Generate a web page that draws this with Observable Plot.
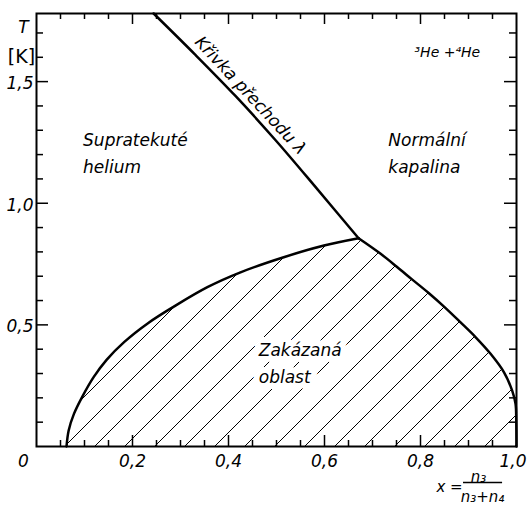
<!DOCTYPE html>
<html><head><meta charset="utf-8">
<script src="https://cdn.jsdelivr.net/npm/d3@7"></script>
<script src="https://cdn.jsdelivr.net/npm/@observablehq/plot@0.6"></script>
<style>body{margin:0;background:#fff}</style>
</head><body><div id="chart"></div>
<script>
// λ transition line (x = n3/(n3+n4), T in K)
const lambdaX = [0.244, 0.33, 0.415, 0.50, 0.585, 0.671];
const lambdaT = [1.78, 1.612, 1.44, 1.255, 1.058, 0.856];
// phase-separation boundary, left (He4-rich) branch
const leftX = [0.0625, 0.067, 0.078, 0.095, 0.119, 0.146, 0.183, 0.233, 0.286, 0.356, 0.425, 0.515, 0.599, 0.671];
const leftT = [0, 0.066, 0.134, 0.203, 0.285, 0.356, 0.430, 0.508, 0.575, 0.655, 0.716, 0.778, 0.826, 0.856];
// right (He3-rich) branch
const rightX = [0.671, 0.717, 0.75, 0.783, 0.817, 0.849, 0.883, 0.915, 0.946, 0.974, 0.991, 0.998, 0.9995, 1.0];
const rightT = [0.856, 0.792, 0.740, 0.686, 0.631, 0.575, 0.511, 0.449, 0.381, 0.305, 0.230, 0.175, 0.107, 0];
// ticks
const xLabelTicks = [0.2, 0.4, 0.6, 0.8];
const xEndTick = [1.0];
const xZeroTick = [0];
const xMajorTicks = [0.2, 0.4, 0.6, 0.8];
const xMinorTicks = [0.05, 0.1, 0.15, 0.25, 0.3, 0.35, 0.45, 0.5, 0.55, 0.65, 0.7, 0.75, 0.85, 0.9, 0.95];
const yLabelTicks = [0.5, 1.0, 1.5];
const yMinorTicks = [0.1, 0.2, 0.3, 0.4, 0.6, 0.7, 0.8, 0.9, 1.1, 1.2, 1.3, 1.4, 1.6, 1.7];
// region labels
const regionLabels = [
  {x: 0.097, T: 1.237, text: "Supratekuté"},
  {x: 0.097, T: 1.126, text: "helium"},
  {x: 0.733, T: 1.237, text: "Normální"},
  {x: 0.733, T: 1.126, text: "kapalina"},
  {x: 0.463, T: 0.374, text: "Zakázaná"},
  {x: 0.463, T: 0.259, text: "oblast"}
];
const curveLabel = [{x: 0.446, T: 1.443, text: "Křivka přechodu λ"}];
const mixLabel = [{x: 0.7875, T: 1.60, text: "³He +⁴He"}];
const fractionBar = [{T: -0.148, x1: 0.8896, x2: 0.971}];

const fmt = d => d === 0 ? "0" : d.toFixed(1).replace(".", ",");
const zip = (xs, ts) => xs.map((x, i) => ({x, T: ts[i]}));
const lambda = zip(lambdaX, lambdaT);
const left = zip(leftX, leftT);
const right = zip(rightX, rightT);

const W = 527, H = 506, mL = 36, mR = 11, mT = 13, mB = 60;
const xDom = [0, 1], yDom = [0, 1.78];
const fw = W - mL - mR, fh = H - mT - mB;
const px2x = p => p * (xDom[1] - xDom[0]) / fw;   // pixel length -> x units
const px2y = p => p * (yDom[1] - yDom[0]) / fh;   // pixel length -> T units
const tickStyle = {stroke: "black", strokeWidth: 1.5};

const plot = Plot.plot({
  width: W, height: H,
  marginLeft: mL, marginRight: mR, marginTop: mT, marginBottom: mB,
  x: {domain: xDom, axis: null},
  y: {domain: yDom, axis: null},
  style: {fontFamily: "'DejaVu Sans', sans-serif", fontStyle: "italic", fontSize: "17px", color: "black", background: "white"},
  marks: [
    Plot.areaY(left, {x: "x", y: "T", fill: "url(#hatch)", curve: "catmull-rom"}),
    Plot.areaY(right, {x: "x", y: "T", fill: "url(#hatch)", curve: "catmull-rom"}),
    Plot.text(regionLabels, {x: "x", y: "T", text: "text", textAnchor: "start", lineAnchor: "bottom", stroke: "white", strokeWidth: 12, fill: "black"}),
    Plot.line(left, {x: "x", y: "T", stroke: "black", strokeWidth: 2.5, curve: "catmull-rom"}),
    Plot.line(right, {x: "x", y: "T", stroke: "black", strokeWidth: 2.5, curve: "catmull-rom"}),
    Plot.line(lambda, {x: "x", y: "T", stroke: "black", strokeWidth: 2.5, curve: "catmull-rom"}),
    Plot.frame({stroke: "black", strokeWidth: 2}),
    // inward ticks
    Plot.ruleX(xMinorTicks, {x: d => d, y1: yDom[0], y2: yDom[0] + px2y(6), ...tickStyle}),
    Plot.ruleX(xMajorTicks, {x: d => d, y1: yDom[0], y2: yDom[0] + px2y(11), ...tickStyle}),
    Plot.ruleX(xMinorTicks, {x: d => d, y1: yDom[1], y2: yDom[1] - px2y(6), ...tickStyle}),
    Plot.ruleX(xMajorTicks, {x: d => d, y1: yDom[1], y2: yDom[1] - px2y(11), ...tickStyle}),
    Plot.ruleY(yMinorTicks, {y: d => d, x1: xDom[0], x2: xDom[0] + px2x(7), ...tickStyle}),
    Plot.ruleY(yLabelTicks, {y: d => d, x1: xDom[0], x2: xDom[0] + px2x(12), ...tickStyle}),
    Plot.ruleY(yMinorTicks, {y: d => d, x1: xDom[1], x2: xDom[1] - px2x(7), ...tickStyle}),
    Plot.ruleY(yLabelTicks, {y: d => d, x1: xDom[1], x2: xDom[1] - px2x(12), ...tickStyle}),
    // tick labels
    Plot.axisX(xLabelTicks, {anchor: "bottom", tickSize: 0, tickPadding: 8, tickFormat: fmt, label: null}),
    Plot.axisX(xEndTick, {anchor: "bottom", tickSize: 0, tickPadding: 8, tickFormat: fmt, textAnchor: "end", dx: 10, label: null}),
    Plot.axisX(xZeroTick, {anchor: "bottom", tickSize: 0, tickPadding: 8, tickFormat: fmt, dx: -13, label: null}),
    Plot.axisY(yLabelTicks, {anchor: "left", tickSize: 0, tickPadding: 3, tickFormat: fmt, dy: 2, label: null}),
    // axis titles
    Plot.text(["T"], {frameAnchor: "top-left", dx: -13, dy: 14, text: d => d, textAnchor: "middle", lineAnchor: "middle"}),
    Plot.text(["[K]"], {frameAnchor: "top-left", dx: -15, dy: 43, text: d => d, textAnchor: "middle", lineAnchor: "middle", fontStyle: "normal", fontSize: 19}),
    Plot.text(["x ="], {frameAnchor: "bottom-right", dx: -67, dy: 41, text: d => d, textAnchor: "middle", lineAnchor: "middle", fontSize: 15}),
    Plot.text(["n₃"], {frameAnchor: "bottom-right", dx: -38, dy: 31, text: d => d, textAnchor: "middle", lineAnchor: "middle", fontSize: 15}),
    Plot.text(["n₃+n₄"], {frameAnchor: "bottom-right", dx: -34, dy: 51, text: d => d, textAnchor: "middle", lineAnchor: "middle", fontSize: 15}),
    Plot.ruleY(fractionBar, {y: "T", x1: "x1", x2: "x2", stroke: "black", strokeWidth: 1.5}),
    // labels
    Plot.text(curveLabel, {x: "x", y: "T", text: "text", rotate: 47, fill: "black"}),
    Plot.text(mixLabel, {x: "x", y: "T", text: "text", textAnchor: "start", lineAnchor: "bottom", fontSize: 14})
  ]
});

const defs = d3.select(plot).insert("defs", ":first-child");
const pat = defs.append("pattern").attr("id", "hatch").attr("patternUnits", "userSpaceOnUse")
  .attr("width", 30).attr("height", 30).attr("x", 1).attr("y", 0);
pat.append("path").attr("d", "M-1,31 L31,-1 M-8,8 L8,-8 M22,38 L38,22")
  .attr("stroke", "black").attr("stroke-width", 1).attr("fill", "none");

document.getElementById("chart").appendChild(plot);
</script>
</body></html>
